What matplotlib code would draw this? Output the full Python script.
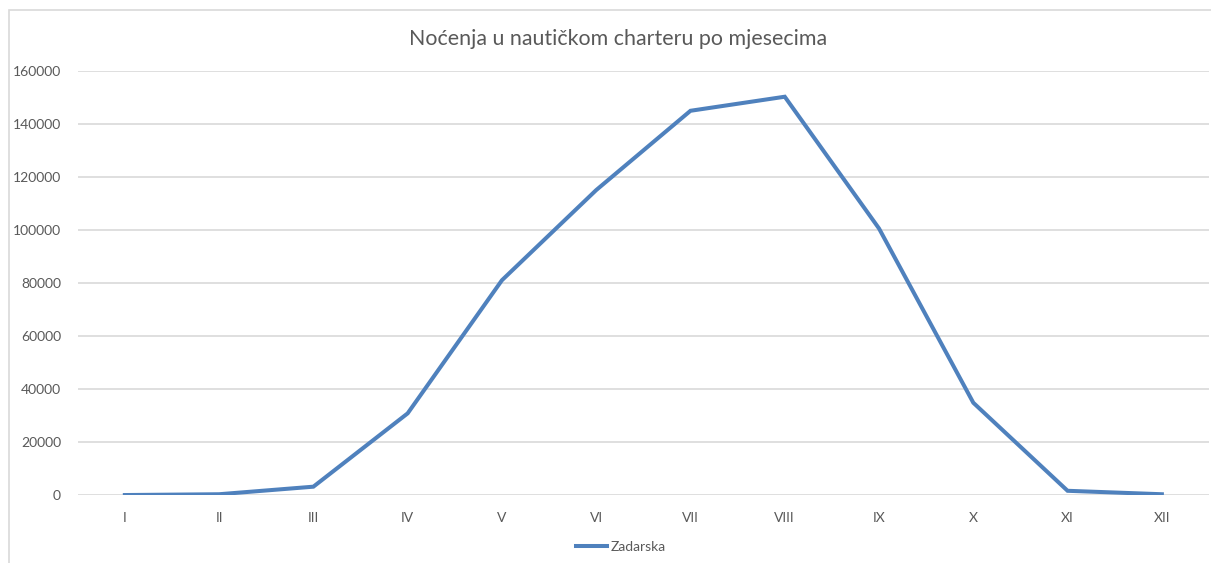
import matplotlib
matplotlib.use('Agg')
import matplotlib.pyplot as plt
from matplotlib.patches import Rectangle
from matplotlib.lines import Line2D

months = ['I', 'II', 'III', 'IV', 'V', 'VI', 'VII', 'VIII', 'IX', 'X', 'XI', 'XII']
zadarska = [100, 400, 3250, 30900, 81100, 115100, 145000, 150300, 100600, 34900, 1700, 400]
yticks = [0, 20000, 40000, 60000, 80000, 100000, 120000, 140000, 160000]

plt.rcParams['font.family'] = ['Lato', 'DejaVu Sans']
text_col = '#595959'
line_col = '#4F81BD'

fig = plt.figure(figsize=(12.11, 5.63), dpi=100)
fig.patch.set_facecolor('white')

# chart area border (only top and left visible in the reference)
fig.patches.append(Rectangle((9 / 1211, -0.1), 1.2, 1 - 10 / 563 + 0.1,
                             transform=fig.transFigure, fill=False,
                             edgecolor='#D9D9D9', linewidth=1.2))

ax = fig.add_axes([77.7 / 1211, 1 - 495.3 / 563, (1209 - 77.7) / 1211, (495.3 - 71) / 563])
x = range(len(months))
ax.plot(x, zadarska, color=line_col, linewidth=2.9, solid_joinstyle='miter', zorder=3)

ax.set_xlim(-0.5, len(months) - 0.5)
ax.set_ylim(0, 160000)
ax.set_yticks(yticks)
ax.set_xticks(list(x))
ax.set_xticklabels(months)
ax.grid(axis='y', color='#D9D9D9', linewidth=1.2)
ax.set_axisbelow(True)
for s in ax.spines.values():
    s.set_visible(False)
ax.tick_params(length=0, colors=text_col, labelsize=10)
ax.tick_params(axis='y', pad=12)
ax.tick_params(axis='x', pad=12)

fig.text(618 / 1211, 1 - 39 / 563, 'Noćenja u nautičkom charteru po mjesecima',
         ha='center', va='center', fontsize=15.4, color=text_col)

handle = Line2D([], [], color=line_col, linewidth=2.9)
fig.legend([handle], ['Zadarska'], loc='center', bbox_to_anchor=(621 / 1211, 1 - 547 / 563),
           frameon=False, fontsize=10, labelcolor=text_col, handlelength=2.2, handletextpad=0.3)

fig.savefig('out.png', dpi=100)
